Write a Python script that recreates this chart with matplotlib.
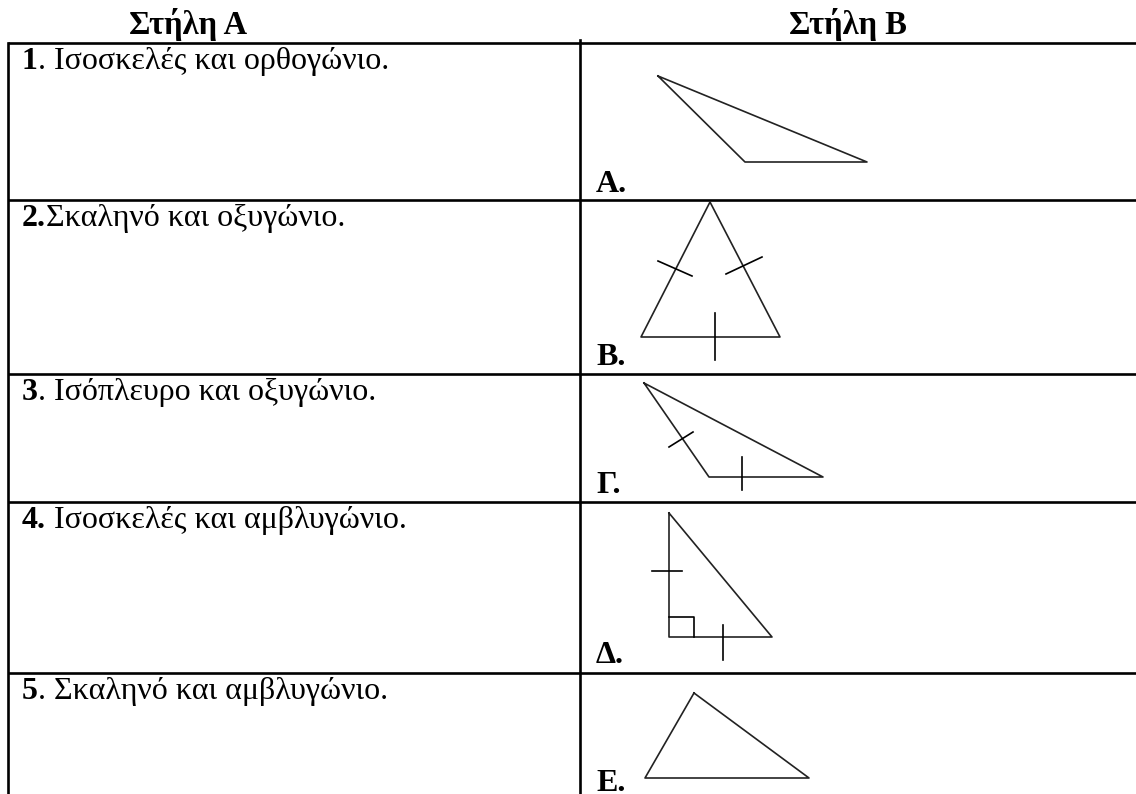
import matplotlib
matplotlib.use("Agg")
import matplotlib.pyplot as plt

plt.rcParams['font.family'] = ['Liberation Serif', 'DejaVu Serif']

# table layout (pixels, y down)
row_lines = [43, 200, 374, 502, 673]
col_left = 8
col_mid = 580

headers = ["Στήλη Α", "Στήλη Β"]
header_x = [188, 848]

bold_parts = ["1", "2.", "3", "4.", "5"]
rest_parts = [". Ισοσκελές και ορθογώνιο.",
              "Σκαληνό και οξυγώνιο.",
              ". Ισόπλευρο και οξυγώνιο.",
              " Ισοσκελές και αμβλυγώνιο.",
              ". Σκαληνό και αμβλυγώνιο."]
labels_b = ["Α.", "Β.", "Γ.", "Δ.", "Ε."]
label_y = [192, 365, 493, 663, 791]

# triangles in column B
tri_A = [(658, 76), (745, 162), (867, 162)]
tri_B = [(710, 202), (641, 337), (780, 337)]
tri_G = [(644, 383), (709, 477), (823, 477)]
tri_D = [(669, 513), (669, 637), (772, 637)]
tri_E = [(694, 693), (645, 778), (809, 778)]
triangles = [tri_A, tri_B, tri_G, tri_D, tri_E]

# equal-side tick marks
ticks = [
    [(658, 261), (692, 276)],
    [(726, 274), (762, 257)],
    [(715, 313), (715, 360)],
    [(669, 447), (693, 432)],
    [(742, 457), (742, 490)],
    [(652, 571), (682, 571)],
    [(723, 625), (723, 660)],
]
right_angle = [(669, 617), (694, 617), (694, 637)]

fig = plt.figure(figsize=(11.36, 7.94), dpi=100)
ax = fig.add_axes([0, 0, 1, 1])
ax.set_xlim(0, 1136)
ax.set_ylim(794, 0)
ax.axis('off')

# grid lines
for y in row_lines:
    ax.plot([col_left, 1136], [y, y], color='black', lw=1.9, solid_capstyle='butt')
ax.plot([col_left, col_left], [row_lines[0], 794], color='black', lw=1.9)
ax.plot([col_mid, col_mid], [row_lines[0] - 3, 794], color='black', lw=1.9)

for h, x in zip(headers, header_x):
    ax.text(x, 34, h, ha='center', va='baseline', fontsize=23.5, fontweight='bold')

for i in range(len(bold_parts)):
    t = ax.text(22, row_lines[i] + 26, bold_parts[i], ha='left', va='baseline',
                fontsize=23, fontweight='bold')
    ax.annotate(rest_parts[i], xy=(1, 0), xycoords=t, ha='left', va='bottom',
                fontsize=23)
    ax.text(596, label_y[i], labels_b[i], ha='left', va='baseline',
            fontsize=23, fontweight='bold')

for tri in triangles:
    xs = [p[0] for p in tri] + [tri[0][0]]
    ys = [p[1] for p in tri] + [tri[0][1]]
    ax.plot(xs, ys, color='#222222', lw=1.2)

for seg in ticks:
    ax.plot([seg[0][0], seg[1][0]], [seg[0][1], seg[1][1]], color='black', lw=1.2)

ax.plot([p[0] for p in right_angle], [p[1] for p in right_angle], color='black', lw=1.2)

fig.savefig('out.png', dpi=100)
